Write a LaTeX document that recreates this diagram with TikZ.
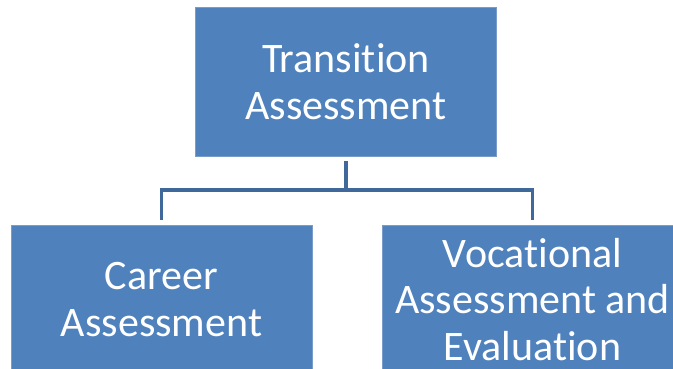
\documentclass[tikz,border=0pt]{standalone}
\usepackage{fontspec}
\setmainfont[Ligatures=NoCommon]{Carlito}
\definecolor{boxfill}{HTML}{4F81BD}
\definecolor{boxline}{HTML}{7A9CCB}
\definecolor{linkcol}{HTML}{41689A}
\begin{document}
\begin{tikzpicture}[x=1pt,y=1pt,
  orgbox/.style={rectangle, fill=boxfill, draw=boxline, line width=0.8pt,
    minimum width=301pt, minimum height=149pt, inner sep=0pt,
    text=white, align=center, font=\fontsize{42}{46.5}\selectfont},
  link/.style={draw=linkcol, line width=3.6pt}]
\useasboundingbox (0,0) rectangle (673,368);
\clip (0,0) rectangle (673,368);
\node[orgbox] (top) at (346,286.5) {Transition\\Assessment};
\node[orgbox] (left) at (161.5,68.5) {Career\\Assessment};
\node[orgbox] (right) at (532.5,68.5) {Vocational\\Assessment and\\Evaluation};
\coordinate (ts) at ([yshift=-5pt]top.south);
\coordinate (ls) at ([yshift=5pt]left.north);
\coordinate (rs) at ([yshift=5pt]right.north);
\coordinate (mid) at (346,178);
\draw[link] (ts) -- (mid);
\draw[link] (ls) |- (mid);
\draw[link] (rs) |- (mid);
\end{tikzpicture}
\end{document}
